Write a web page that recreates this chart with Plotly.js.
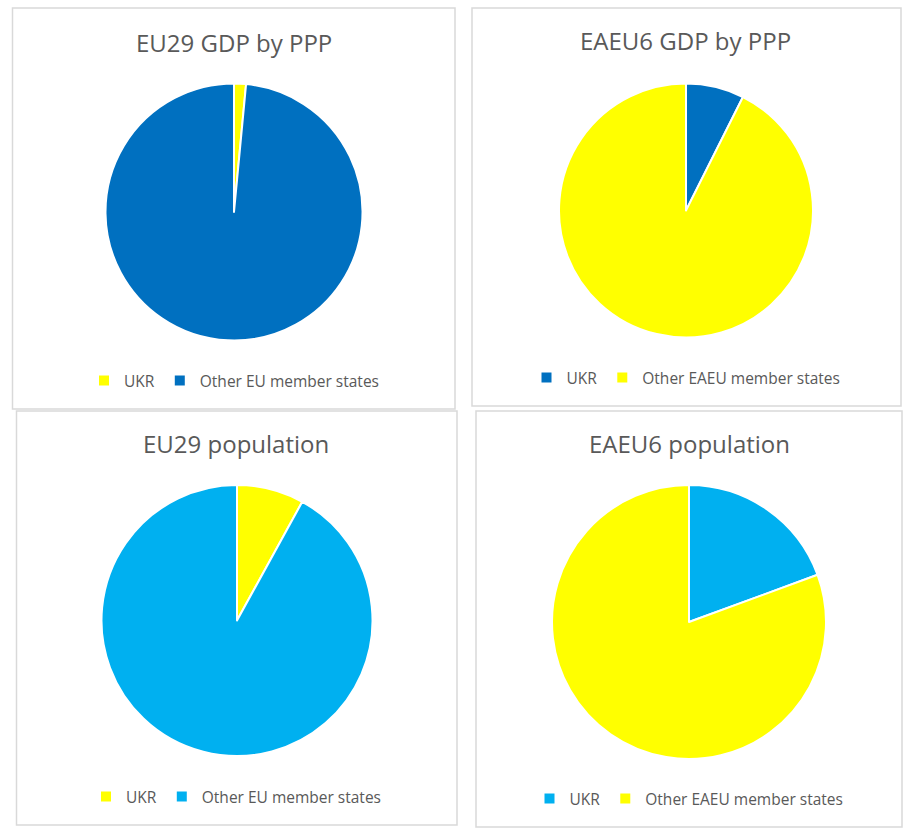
<!DOCTYPE html>
<html>
<head>
<meta charset="utf-8">
<script src="https://cdn.plot.ly/plotly-3.0.1.min.js"></script>
<style>
  html, body { margin: 0; padding: 0; background: #ffffff; }
  #charts { width: 914px; height: 832px; }
</style>
</head>
<body>
<div id="charts"></div>
<script>
// values (shares in %)
const sliceLabelsEU = ["UKR", "Other EU member states"];
const sliceLabelsEAEU = ["UKR", "Other EAEU member states"];

const eu29Gdp = [1.5, 98.5];
const eaeu6Gdp = [7.4, 92.6];
const eu29Population = [8.0, 92.0];
const eaeu6Population = [19.4, 80.6];

const chartTitles = ["EU29 GDP by PPP", "EAEU6 GDP by PPP", "EU29 population", "EAEU6 population"];

const W = 914, H = 832;
const px = x => x / W;
const py = y => 1 - y / H;

const colours = {
    yellow: "#FFFF00",
    darkBlue: "#0070C0",
    lightBlue: "#00B0F0",
    text: "#595959",
    border: "#D9D9D9"
};

// panel geometry in pixels: box, pie centre + radius, title y, legend centre
const panels = [
    { box: [12.5, 8, 455, 409],  cx: 234, cy: 212, r: 128.5, titleX: 234, titleY: 42,  legX: 234, legY: 381 },
    { box: [472, 8, 901, 406],   cx: 686, cy: 210.5, r: 127, titleX: 685, titleY: 41,  legX: 686, legY: 378 },
    { box: [16.5, 411, 457, 825], cx: 237, cy: 620.5, r: 135.5, titleX: 236.5, titleY: 443, legX: 236, legY: 797 },
    { box: [476, 411, 902, 827], cx: 689, cy: 622, r: 137, titleX: 689, titleY: 443, legX: 689, legY: 799 }
];

const series = [
    { labels: sliceLabelsEU, values: eu29Gdp, colors: [colours.yellow, colours.darkBlue] },
    { labels: sliceLabelsEAEU, values: eaeu6Gdp, colors: [colours.darkBlue, colours.yellow] },
    { labels: sliceLabelsEU, values: eu29Population, colors: [colours.yellow, colours.lightBlue] },
    { labels: sliceLabelsEAEU, values: eaeu6Population, colors: [colours.lightBlue, colours.yellow] }
];

const legendIds = ["legend", "legend2", "legend3", "legend4"];

const data = series.map((s, i) => {
    const p = panels[i];
    return {
        type: "pie",
        labels: s.labels,
        values: s.values,
        marker: { colors: s.colors, line: { color: "#ffffff", width: 2 } },
        sort: false,
        direction: "clockwise",
        rotation: 0,
        textinfo: "none",
        hoverinfo: "label+percent",
        legend: legendIds[i],
        legendgroup: "chart" + i, // own group so every chart lists its own slices
        domain: {
            x: [px(p.cx - p.r), px(p.cx + p.r)],
            y: [py(p.cy + p.r), py(p.cy - p.r)]
        }
    };
});

const layout = {
    width: W,
    height: H,
    margin: { l: 0, r: 0, t: 0, b: 0 },
    paper_bgcolor: "#ffffff",
    font: { family: "Open Sans, sans-serif", color: colours.text },
    shapes: panels.map(p => ({
        type: "rect",
        xref: "paper", yref: "paper",
        x0: px(p.box[0]), x1: px(p.box[2]),
        y0: py(p.box[3]), y1: py(p.box[1]),
        line: { color: colours.border, width: 1.5 },
        layer: "below"
    })),
    annotations: panels.map((p, i) => ({
        text: chartTitles[i],
        xref: "paper", yref: "paper",
        x: px(p.titleX), y: py(p.titleY),
        xanchor: "center", yanchor: "middle",
        showarrow: false,
        font: { family: "Open Sans, sans-serif", size: 24, color: colours.text }
    }))
};

panels.forEach((p, i) => {
    layout[legendIds[i]] = {
        orientation: "h",
        traceorder: "normal", // keep the two slices side by side
        x: px(p.legX), y: py(p.legY),
        xanchor: "center", yanchor: "middle",
        font: { family: "Open Sans, sans-serif", size: 15.5, color: colours.text },
        itemwidth: 30,
        bgcolor: "rgba(0,0,0,0)"
    };
});

Plotly.newPlot("charts", data, layout, { displayModeBar: false, responsive: false });
</script>
</body>
</html>
